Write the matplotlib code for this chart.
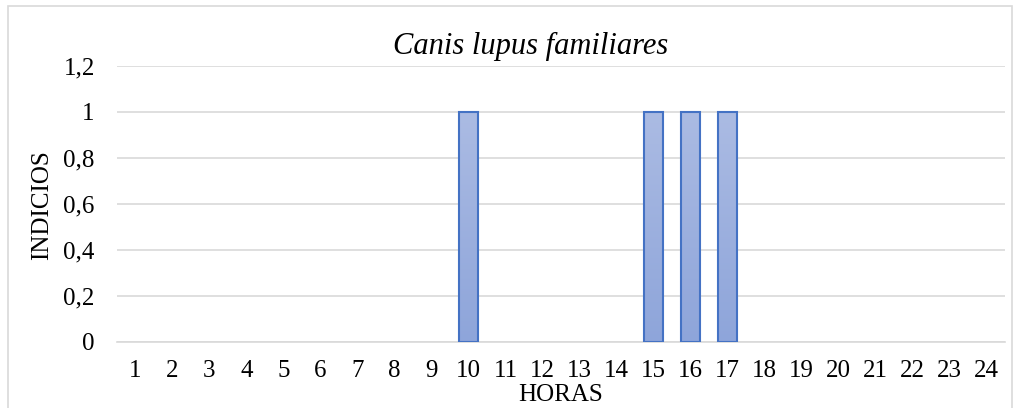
import numpy as np
import matplotlib.pyplot as plt
import matplotlib as mpl
from matplotlib.patches import Rectangle

mpl.rcParams['font.family'] = ['Liberation Serif', 'DejaVu Serif']

horas = list(range(1, 25))
indicios = [0, 0, 0, 0, 0, 0, 0, 0, 0, 1, 0, 0, 0, 0, 1, 1, 1, 0, 0, 0, 0, 0, 0, 0]
yticks = [0, 0.2, 0.4, 0.6, 0.8, 1, 1.2]
ytick_labels = ["0", "0,2", "0,4", "0,6", "0,8", "1", "1,2"]

W, H = 1018, 408
fig = plt.figure(figsize=(W / 100, H / 100), dpi=100)
ax = fig.add_axes([117 / W, 1 - 342 / H, 888 / W, 276 / H])

# outer chart border
fig.patches.append(Rectangle((8 / W, -0.05), 1004 / W, 1 - 6 / H + 0.05,
                             transform=fig.transFigure, fill=False,
                             edgecolor="#d9d9d9", linewidth=1.2))

grad = np.linspace(0, 1, 256).reshape(-1, 1)
cmap = mpl.colors.LinearSegmentedColormap.from_list("g", ["#8ea5da", "#abbbe3"])

bars = ax.bar(horas, indicios, width=0.5, color="none", edgecolor="#4472c4",
              linewidth=1.5, zorder=3)
for b in bars:
    if b.get_height() <= 0:
        b.set_visible(False)
        continue
    x0, w, h = b.get_x(), b.get_width(), b.get_height()
    im = ax.imshow(grad, extent=[x0, x0 + w, 0, h], origin="lower", cmap=cmap,
                   aspect="auto", zorder=2)
    im.set_clip_path(b)

ax.set_xlim(0.5, 24.5)
ax.set_ylim(0, 1.2)
ax.set_xticks(horas)
ax.set_xticklabels([str(h) for h in horas], fontsize=18)
ax.set_yticks(yticks)
ax.set_yticklabels(ytick_labels, fontsize=18)
ax.tick_params(length=0)
ax.tick_params(axis="x", pad=13)
ax.tick_params(axis="y", pad=16)
ax.grid(axis="y", color="#d9d9d9", linewidth=1.2, zorder=0)
for s in ["top", "right", "left"]:
    ax.spines[s].set_visible(False)
ax.spines["bottom"].set_color("#d9d9d9")
ax.spines["bottom"].set_linewidth(1.2)

fig.text(531 / W, 1 - 46 / H, "Canis lupus familiares", fontsize=22,
         style="italic", ha="center", va="center")
fig.text(561 / W, 1 - 395 / H, "HORAS", fontsize=18, ha="center", va="center")
fig.text(42 / W, 1 - 205 / H, "INDICIOS", fontsize=18, rotation=90,
         ha="center", va="center")

fig.savefig("out.png", dpi=100)
